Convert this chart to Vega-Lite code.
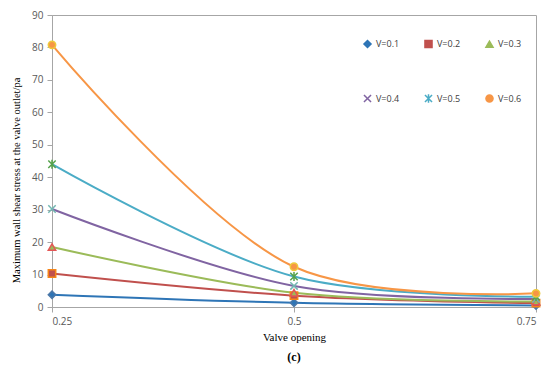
{
  "$schema": "https://vega.github.io/schema/vega-lite/v6.json",
  "autosize": "none",
  "width": 484,
  "height": 292,
  "padding": {"left": 52, "top": 15, "right": 14, "bottom": 66},
  "background": "white",
  "config": {"view": {"stroke": "#a6a6a6", "strokeWidth": 1}},
  "title": {"text": "(c)", "orient": "bottom", "font": "Liberation Serif", "fontSize": 12, "fontWeight": "bold", "color": "#000000", "offset": 10},
  "data": {"values": [
    {"opening": 0.25, "V": "V=0.1", "stress": 3.8},
    {"opening": 0.5, "V": "V=0.1", "stress": 1.3},
    {"opening": 0.75, "V": "V=0.1", "stress": 0.5},
    {"opening": 0.25, "V": "V=0.2", "stress": 10.3},
    {"opening": 0.5, "V": "V=0.2", "stress": 3.5},
    {"opening": 0.75, "V": "V=0.2", "stress": 1.2},
    {"opening": 0.25, "V": "V=0.3", "stress": 18.5},
    {"opening": 0.5, "V": "V=0.3", "stress": 4.4},
    {"opening": 0.75, "V": "V=0.3", "stress": 1.7},
    {"opening": 0.25, "V": "V=0.4", "stress": 30.2},
    {"opening": 0.5, "V": "V=0.4", "stress": 6.5},
    {"opening": 0.75, "V": "V=0.4", "stress": 2.5},
    {"opening": 0.25, "V": "V=0.5", "stress": 44.0},
    {"opening": 0.5, "V": "V=0.5", "stress": 9.4},
    {"opening": 0.75, "V": "V=0.5", "stress": 3.2},
    {"opening": 0.25, "V": "V=0.6", "stress": 80.8},
    {"opening": 0.5, "V": "V=0.6", "stress": 12.4},
    {"opening": 0.75, "V": "V=0.6", "stress": 4.2}
  ]},
  "encoding": {
    "x": {"field": "opening", "type": "quantitative",
      "scale": {"domain": [0.25, 0.75], "nice": false, "zero": false},
      "axis": {"values": [0.25, 0.5, 0.75], "format": ".2~f", "title": "Valve opening", "grid": false,
        "domainColor": "#a6a6a6", "tickColor": "#a6a6a6", "tickSize": 5,
        "labelFont": "Open Sans", "labelFontSize": 10, "labelColor": "#595959", "labelPadding": 4,
        "titleFont": "Liberation Serif", "titleFontSize": 11, "titleFontWeight": "normal", "titleColor": "#000000", "titlePadding": 5}},
    "y": {"field": "stress", "type": "quantitative",
      "scale": {"domain": [0, 90], "nice": false},
      "axis": {"values": [0, 10, 20, 30, 40, 50, 60, 70, 80, 90], "title": "Maximum wall shear stress at the valve outlet/pa", "grid": false,
        "domainColor": "#a6a6a6", "tickColor": "#a6a6a6", "tickSize": 5,
        "labelFont": "Open Sans", "labelFontSize": 10, "labelColor": "#595959", "labelPadding": 4,
        "titleFont": "Liberation Serif", "titleFontSize": 10.5, "titleFontWeight": "normal", "titleColor": "#000000", "titlePadding": 10, "titleY": 165}},
    "color": {"field": "V", "type": "nominal",
      "scale": {"domain": ["V=0.1", "V=0.2", "V=0.3", "V=0.4", "V=0.5", "V=0.6"],
        "range": ["#2e75b6", "#c0504d", "#9bbb59", "#8064a2", "#4bacc6", "#f79646"]},
      "legend": {"orient": "none", "direction": "horizontal", "legendX": 311, "legendY": 24, "columns": 3, "title": null,
        "rowPadding": 40, "columnPadding": 21, "labelFont": "Open Sans", "labelFontSize": 9, "labelColor": "#404040",
        "symbolSize": 50, "symbolStrokeWidth": 1.5}}
  },
  "layer": [
    {"mark": {"type": "line", "interpolate": "catmull-rom", "strokeWidth": 2}},
    {"mark": {"type": "point", "filled": true, "size": 55, "opacity": 1, "strokeWidth": 1.5},
      "encoding": {
        "shape": {"field": "V", "type": "nominal",
          "scale": {"domain": ["V=0.1", "V=0.2", "V=0.3", "V=0.4", "V=0.5", "V=0.6"],
            "range": ["diamond", "square", "triangle-up", "M-1,-1L1,1M-1,1L1,-1", "M-1,-1L1,1M-1,1L1,-1M0,-1.2L0,1.2", "circle"]},
          "legend": {"orient": "none", "direction": "horizontal", "legendX": 311, "legendY": 24, "columns": 3, "title": null,
            "rowPadding": 40, "columnPadding": 21, "labelFont": "Open Sans", "labelFontSize": 9, "labelColor": "#404040",
            "symbolSize": 50, "symbolStrokeWidth": 1.5}},
        "stroke": {"field": "V", "type": "nominal", "legend": null}
      }}
  ]
}
